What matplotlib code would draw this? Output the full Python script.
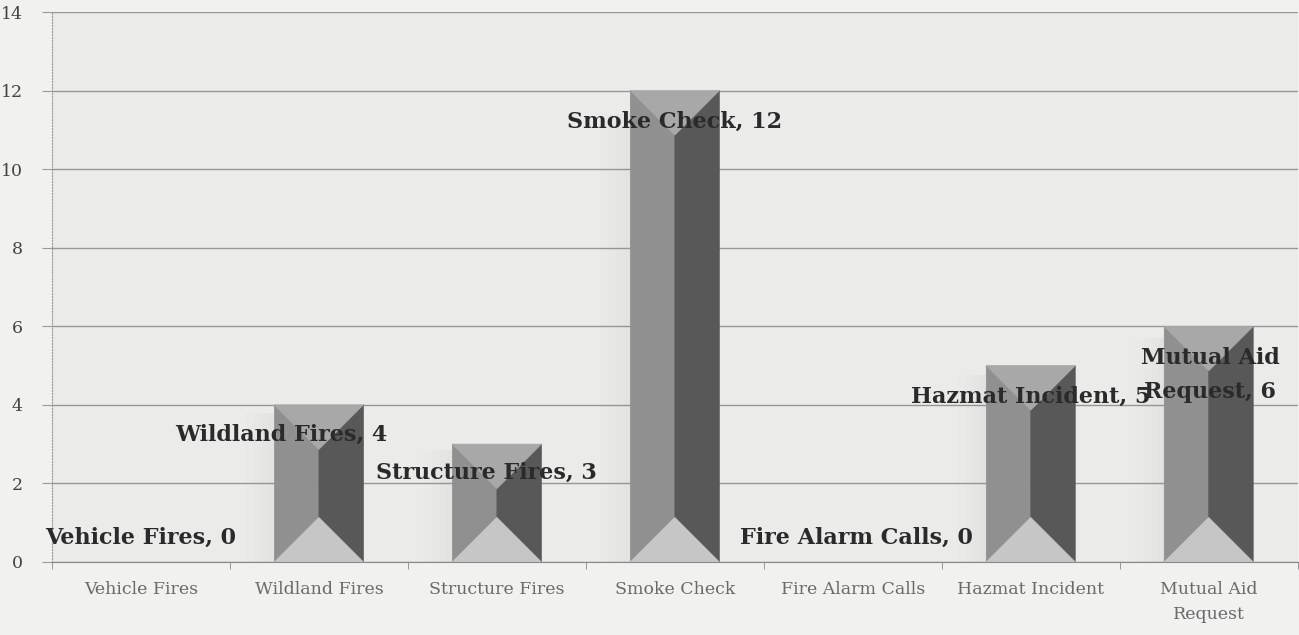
import matplotlib.pyplot as plt
from matplotlib.patches import Polygon, Rectangle
import numpy as np

categories = ['Vehicle Fires', 'Wildland Fires', 'Structure Fires', 'Smoke Check',
              'Fire Alarm Calls', 'Hazmat Incident', 'Mutual Aid\nRequest']
label_names = ['Vehicle Fires', 'Wildland Fires', 'Structure Fires', 'Smoke Check',
               'Fire Alarm Calls', 'Hazmat Incident', 'Mutual Aid\nRequest']
values = [0, 4, 3, 12, 0, 5, 6]

# where the data labels sit (offset from category centre, height in data units)
label_dx = [0.0, -0.21, -0.06, 0.0, 0.02, 0.0, 0.01]
label_y = [0.61, 3.23, 2.26, 11.2, 0.61, 4.2, 4.76]

serif = ['DejaVu Serif']
fig = plt.figure(figsize=(12.99, 6.35), dpi=100, facecolor='#f1f1f0')
ax = fig.add_axes([0.040, 0.115, 0.959, 0.866])
ax.set_facecolor('#ebebea')
ax.set_xlim(-0.5, 6.5)
ax.set_ylim(0, 14)

# bevel depth: 45 degree corners, so convert half bar width into y units
bw = 0.5
ax_w = fig.get_figwidth() * fig.dpi * 0.959
ax_h = fig.get_figheight() * fig.dpi * 0.866
d = (bw / 2 * ax_w / 7) / (ax_h / 14)

ax.set_yticks(np.arange(0, 15, 2))
ax.grid(axis='y', color='#979797', lw=1.0, zorder=0)
ax.set_axisbelow(True)

for i, v in enumerate(values):
    if v <= 0:
        continue
    x0, x1, xc = i - bw / 2, i + bw / 2, i
    # soft shadow to the left
    for k in range(12):
        ax.add_patch(Rectangle((x0 - 0.014 * (k + 1), 0), 0.014, v * 0.95,
                               facecolor='#7a7a7a', alpha=0.07 * (12 - k) / 12,
                               lw=0, zorder=1))
    faces = [
        ([(x0, v), (xc, v - d), (xc, d), (x0, 0)], '#909090'),
        ([(xc, v - d), (x1, v), (x1, 0), (xc, d)], '#585858'),
        ([(x0, v), (x1, v), (xc, v - d)], '#a8a8a8'),
        ([(x0, 0), (x1, 0), (xc, d)], '#c6c6c6'),
    ]
    for pts, col in faces:
        ax.add_patch(Polygon(pts, closed=True, facecolor=col, edgecolor=col,
                             lw=0.5, zorder=2))

for i, v in enumerate(values):
    ax.text(i + label_dx[i], label_y[i], f'{label_names[i]}, {v}',
            ha='center', va='center', fontsize=16, fontweight='bold',
            family=serif, color='#2a2a2a', zorder=5, linespacing=1.7)

ax.set_xticks(range(7))
ax.set_xticklabels(categories, fontsize=12.5, color='#6a6a6a', family=serif,
                   linespacing=1.6)
ax.set_xticks(np.arange(-0.5, 7, 1), minor=True)
ax.tick_params(axis='x', which='major', length=0, pad=14)
ax.tick_params(axis='x', which='minor', length=5, color='#888888')
ax.tick_params(axis='y', length=7, color='#999999', labelsize=12.5,
               labelcolor='#444444', pad=14)
for t in ax.get_yticklabels():
    t.set_family(serif)

for s in ['top', 'right']:
    ax.spines[s].set_visible(False)
ax.spines['left'].set_color('#999999')
ax.spines['left'].set_linestyle(':')
ax.spines['bottom'].set_color('#888888')

fig.savefig('out.png', dpi=100, facecolor=fig.get_facecolor())
